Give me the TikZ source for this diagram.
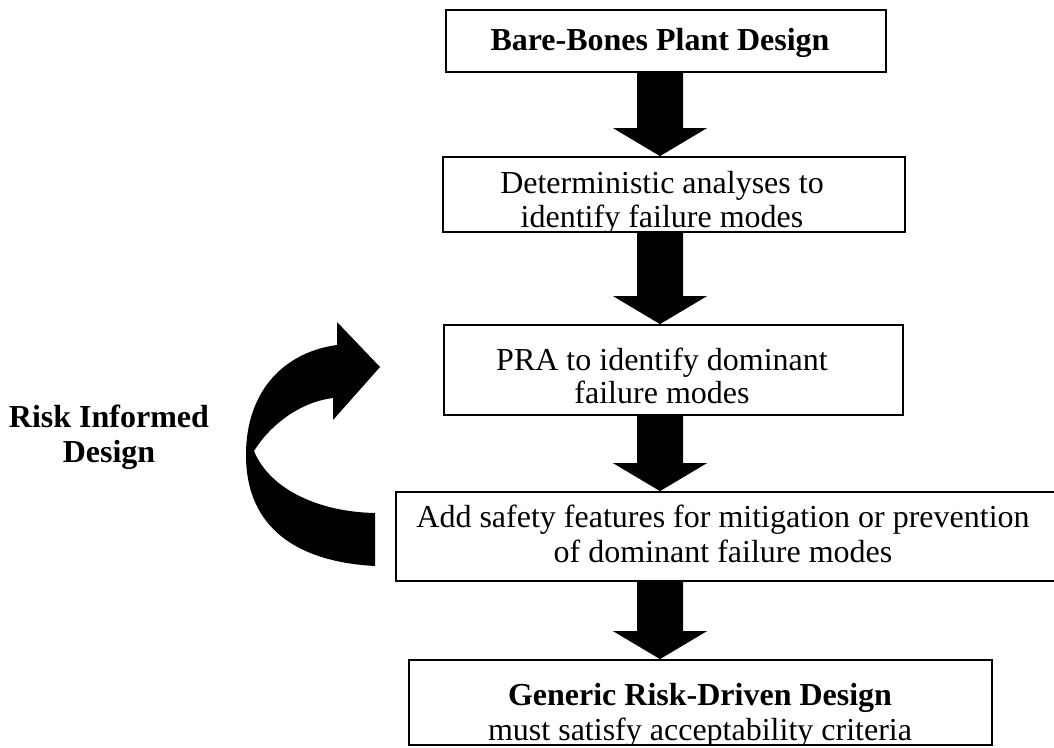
\documentclass[tikz,border=0pt]{standalone}
\usepackage{fontspec}
\setmainfont{Liberation Serif}
\usetikzlibrary{calc}

\tikzset{
  box/.style={draw=black, line width=1.8pt, rectangle, inner sep=0pt, fill=white},
  lbl/.style={anchor=base, inner sep=0pt, font=\fontsize{32}{33}\selectfont},
  boldlbl/.style={anchor=base, inner sep=0pt, font=\fontsize{32}{33}\selectfont\bfseries},
  blockarrow/.style={fill=black},
}

% thick block arrow straight down the main axis, from one box to the next
\newcommand{\flowarrow}[2]{%
  \fill[blockarrow]
    ($(#1.south -| axis)+(-23,0)$) -- ($(#2.north -| axis)+(-23,-28)$)
    -- ($(#2.north -| axis)+(-47,-28)$) -- (#2.north -| axis)
    -- ($(#2.north -| axis)+(47,-28)$) -- ($(#2.north -| axis)+(23,-28)$)
    -- ($(#1.south -| axis)+(23,0)$) -- cycle;}

% clip the lines of text to the inside of their box
\newcommand{\inside}[1]{%
  \clip ($(#1.south west)+(1.8,-1.8)$) rectangle ($(#1.north east)+(-1.8,1.8)$);}

\begin{document}
\begin{tikzpicture}[x=1pt, y=-1pt]
  \useasboundingbox (0,0) rectangle (1054,747);
  \coordinate (axis) at (660,0);

  % process boxes
  \node[box, minimum width=440pt, minimum height=62pt] (b1) at (666,41) {};
  \node[box, minimum width=462pt, minimum height=75pt] (b2) at (674,194.5) {};
  \node[box, minimum width=459pt, minimum height=90pt] (b3) at (673.5,370) {};
  \node[box, minimum width=664pt, minimum height=89pt] (b4) at (728,536.5) {};
  \node[box, minimum width=583pt, minimum height=85pt] (b5) at (700.5,702.5) {};

  % arrows between the steps
  \flowarrow{b1}{b2}
  \flowarrow{b2}{b3}
  \flowarrow{b3}{b4}
  \flowarrow{b4}{b5}

  % box texts
  \begin{scope}\inside{b1}
    \node[boldlbl] (t1) at (660,50) {Bare-Bones Plant Design};
  \end{scope}
  \begin{scope}\inside{b2}
    \node[lbl] (t2a) at (662,193) {Deterministic analyses to};
    \node[lbl] (t2b) at (662,227) {identify failure modes};
  \end{scope}
  \begin{scope}\inside{b3}
    \node[lbl] (t3a) at (662,370) {PRA to identify dominant};
    \node[lbl] (t3b) at (662,403) {failure modes};
  \end{scope}
  \begin{scope}\inside{b4}
    \node[lbl] (t4a) at (723,527) {Add safety features for mitigation or prevention};
    \node[lbl] (t4b) at (723,562) {of dominant failure modes};
  \end{scope}
  \begin{scope}\inside{b5}
    \node[boldlbl] (t5a) at (700,705) {Generic Risk-Driven Design};
    \node[lbl] (t5b) at (700,740) {must satisfy acceptability criteria};
  \end{scope}

  % feedback loop label
  \node[boldlbl] (loopa) at (109,427) {Risk Informed};
  \node[boldlbl] (loopb) at (109,462) {Design};

  % curved ribbon arrow of the design loop
  \fill[blockarrow]
    (375,513) -- (375,566)
    .. controls (300,562) and (246,530) .. (246,455)
    .. controls (246,390) and (285,352) .. (337,345)
    -- (337,322) -- (380,367) -- (333,420) -- (333,398)
    .. controls (300,402) and (270,425) .. (254,451)
    .. controls (270,490) and (320,512) .. (375,513)
    -- cycle;
\end{tikzpicture}
\end{document}
